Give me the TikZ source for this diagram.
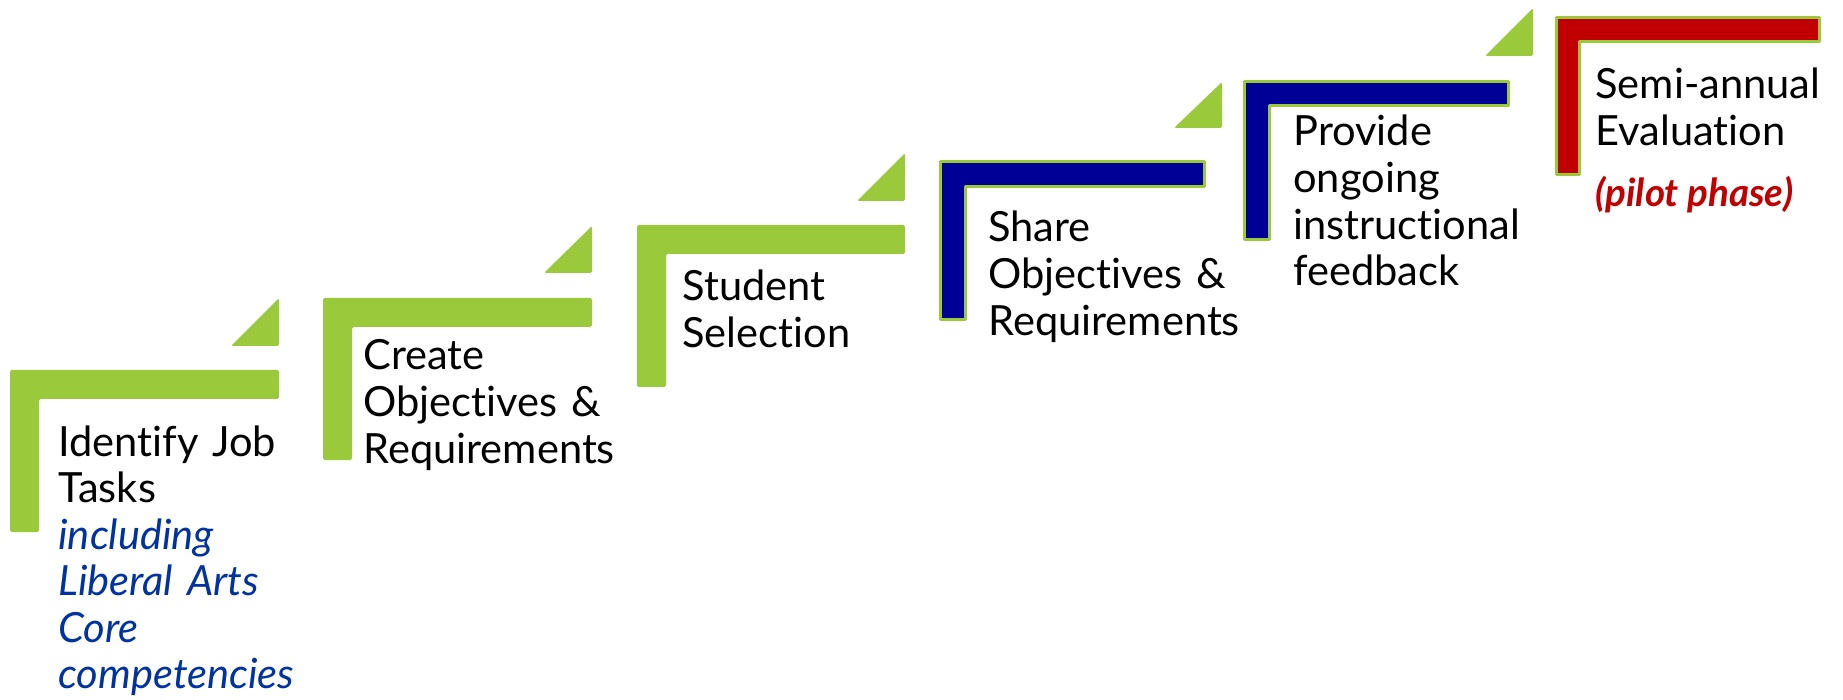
\documentclass[tikz,border=0pt]{standalone}
\usepackage{fontspec}
\setmainfont{Lato}[Ligatures={NoCommon}]
\definecolor{stepgreen}{HTML}{9ACA3C}
\definecolor{stepblue}{HTML}{000096}
\definecolor{stepred}{HTML}{C00000}
\definecolor{noteblue}{HTML}{0033A0}
\begin{document}
\begin{tikzpicture}[x=0.5pt,y=-0.5pt,
  greenstep/.style={fill=stepgreen,rounded corners=0.8pt},
  bluestep/.style={fill=stepblue,draw=stepgreen,line width=1.5pt,line join=round},
  redstep/.style={fill=stepred,draw=stepgreen,line width=1.5pt,line join=round},
  arrowtri/.style={fill=stepgreen,rounded corners=0.8pt},
  steptext/.style={anchor=base west,inner sep=0pt,align=left,text width=300pt,
    font=\fontsize{20.8}{23.3}\selectfont},
  notetext/.style={steptext,text=noteblue,font=\fontsize{20.8}{23.3}\selectfont\itshape},
  pilottext/.style={anchor=base west,inner sep=0pt,text=stepred,
    font=\fontsize{19.3}{22}\selectfont\bfseries\itshape}]
\useasboundingbox[fill=white] (0,0) rectangle (1843,700);
% steps
\path[greenstep] (10,370) -- (279,370) -- (279,399) -- (39,399) -- (39,532) -- (10,532) -- cycle;
\path[greenstep] (323,298) -- (592,298) -- (592,327) -- (352,327) -- (352,460) -- (323,460) -- cycle;
\path[greenstep] (637,225) -- (905,225) -- (905,254) -- (666,254) -- (666,387) -- (637,387) -- cycle;
\path[bluestep] (940.5,161.5) -- (1204.5,161.5) -- (1204.5,186.5) -- (965.5,186.5) -- (965.5,319.5) -- (940.5,319.5) -- cycle;
\path[bluestep] (1244.5,81.5) -- (1508.5,81.5) -- (1508.5,105.5) -- (1269.5,105.5) -- (1269.5,239.5) -- (1244.5,239.5) -- cycle;
\path[redstep] (1556.5,17.5) -- (1819.5,17.5) -- (1819.5,41.5) -- (1579.5,41.5) -- (1579.5,174.5) -- (1556.5,174.5) -- cycle;
% triangles
\path[arrowtri] (279,298) -- (279,346) -- (231,346) -- cycle;
\path[arrowtri] (592,226) -- (592,273) -- (544,273) -- cycle;
\path[arrowtri] (905,153) -- (905,201) -- (857,201) -- cycle;
\path[arrowtri] (1222,82) -- (1222,128) -- (1174,128) -- cycle;
\path[arrowtri] (1533,8) -- (1533,56) -- (1485,56) -- cycle;
% texts
\node[steptext] (t1) at (58,456) {Identify Job\\Tasks};
\node[notetext] (n1) at (58,549) {including\\Liberal Arts\\Core\\competencies};
\node[steptext] (t2) at (363,370) {Create\\Objectives \&\\Requirements};
\node[steptext] (t3) at (682,301) {Student\\Selection};
\node[steptext] (t4) at (988,242) {Share\\Objectives \&\\Requirements};
\node[steptext] (t5) at (1293,146) {Provide\\ongoing\\instructional\\feedback};
\node[steptext] (t6) at (1595,99) {Semi-annual\\Evaluation};
\node[pilottext] (p6) at (1595,207) {(pilot phase)};
\end{tikzpicture}
\end{document}
